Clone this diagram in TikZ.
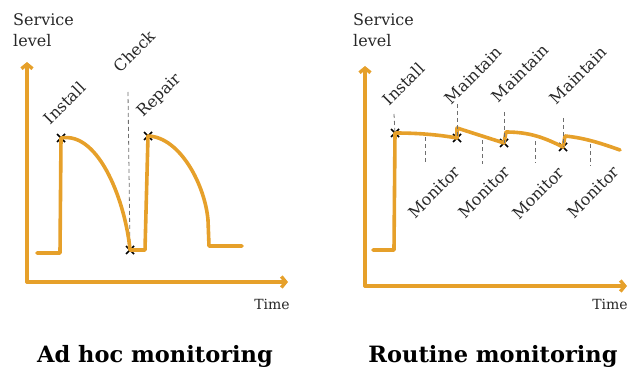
\documentclass[tikz,border=0pt]{standalone}
\usepackage{fontspec}
\setmainfont{DejaVu Serif}
\usepackage{xcolor}
\definecolor{colorc}{RGB}{230,160,42}
\definecolor{colorn}{RGB}{40,40,40}
\definecolor{colorg}{RGB}{110,110,110}
\usepackage{tikz}
\usetikzlibrary{arrows.meta,shapes.misc}
\tikzstyle{axis} = [line width=3.4pt, draw=colorc, line cap=round, -{Straight Barb[length=4.5pt,width=11pt,line width=3.4pt]}]
\tikzstyle{curve} = [line width=3.6pt, draw=colorc, line cap=round, line join=round]
\tikzstyle{guide} = [line width=0.8pt, draw=colorg, dash pattern=on 4pt off 3pt]
\tikzstyle{xmk} = [cross out, draw=black, line width=1.5pt, minimum size=6.5pt, inner sep=0pt]
\tikzstyle{lbl} = [text=colorn, font=\fontsize{16}{18}\selectfont, rotate=45, inner sep=1pt]
\tikzstyle{ylbl} = [text=colorn, font=\fontsize{16}{21}\selectfont, align=left, inner sep=0pt, anchor=north west]
\tikzstyle{tlbl} = [text=colorn, font=\fontsize{14}{16}\selectfont, inner sep=0pt]
\tikzstyle{title} = [text=black, font=\fontsize{22.5}{26}\selectfont\bfseries, inner sep=0pt]

\begin{document}
\begin{tikzpicture}[x=1pt, y=-1pt]
    \useasboundingbox (0,0) rectangle (638,369);

    % ad hoc
    \coordinate (o1) at (27,282);
    \coordinate (yt1) at (27,62);
    \coordinate (xt1) at (288,282);
    \draw[axis] (o1) -- (yt1);
    \draw[axis] (o1) -- (xt1);
    \node[ylbl] (sl1) at (13,13) {Service\\level};
    \node[tlbl] (tm1) at (272,304) {Time};

    \node[xmk] (in1) at (61,138) {};
    \node[xmk] (ck1) at (130,250) {};
    \node[xmk] (rp1) at (148,136) {};
    \coordinate (ckt) at (128,92);
    \draw[guide] (ckt) -- (ck1.center);

    \draw[curve] (37,253) -- (60,253) -- (in1.center)
        .. controls (100,131) and (126,205) .. (ck1.center)
        -- (145,250) -- (rp1.center)
        .. controls (180,137) and (205,185) .. (208,220)
        -- (209,246) -- (242,246);

    \node[lbl, anchor=south west] (l_in1) at (51,127) {Install};
    \node[lbl, anchor=south west] (l_ck1) at (121,75) {Check};
    \node[lbl, anchor=south west] (l_rp1) at (146,122) {Repair};

    \node[title] (t1) at (155,356) {Ad hoc monitoring};

    % routine
    \coordinate (o2) at (365,286);
    \coordinate (yt2) at (365,66);
    \coordinate (xt2) at (627,286);
    \draw[axis] (o2) -- (yt2);
    \draw[axis] (o2) -- (xt2);
    \node[ylbl] (sl2) at (353,13) {Service\\level};
    \node[tlbl] (tm2) at (610,304) {Time};

    \node[xmk] (in2) at (395,133) {};
    \node[xmk] (mt1) at (457,138) {};
    \node[xmk] (mt2) at (504,143) {};
    \node[xmk] (mt3) at (563,147) {};

    \draw[curve] (373,250) -- (394,250) -- (in2.center)
        .. controls (420,133) and (440,135) .. (mt1.center)
        -- (457,128) -- (mt2.center)
        -- (506,132) .. controls (530,132) and (545,138) .. (mt3.center)
        -- (565,136) .. controls (585,138) and (600,143) .. (620,150);

    \draw[guide] (394,114) -- (in2.center);
    \draw[guide] (457,104) -- (mt1.center);
    \draw[guide] (504,112) -- (mt2.center);
    \draw[guide] (563,118) -- (mt3.center);

    \coordinate (mo1) at (425,163);
    \coordinate (mo2) at (482,164);
    \coordinate (mo3) at (535,163);
    \coordinate (mo4) at (590,166);
    \draw[guide] (425,137) -- (mo1);
    \draw[guide] (482,140) -- (mo2);
    \draw[guide] (535,141) -- (mo3);
    \draw[guide] (590,144) -- (mo4);

    \node[lbl, anchor=south west] (l_in2) at (390,108) {Install};
    \node[lbl, anchor=south west] (l_mt1) at (452,107) {Maintain};
    \node[lbl, anchor=south west] (l_mt2) at (499,105) {Maintain};
    \node[lbl, anchor=south west] (l_mt3) at (557,107) {Maintain};
    \node[lbl, anchor=north east] (l_mo1) at (453,163) {Monitor};
    \node[lbl, anchor=north east] (l_mo2) at (503,163) {Monitor};
    \node[lbl, anchor=north east] (l_mo3) at (557,164) {Monitor};
    \node[lbl, anchor=north east] (l_mo4) at (612,163) {Monitor};

    \node[title] (t2) at (493,356) {Routine monitoring};
  \end{tikzpicture}
\end{document}
